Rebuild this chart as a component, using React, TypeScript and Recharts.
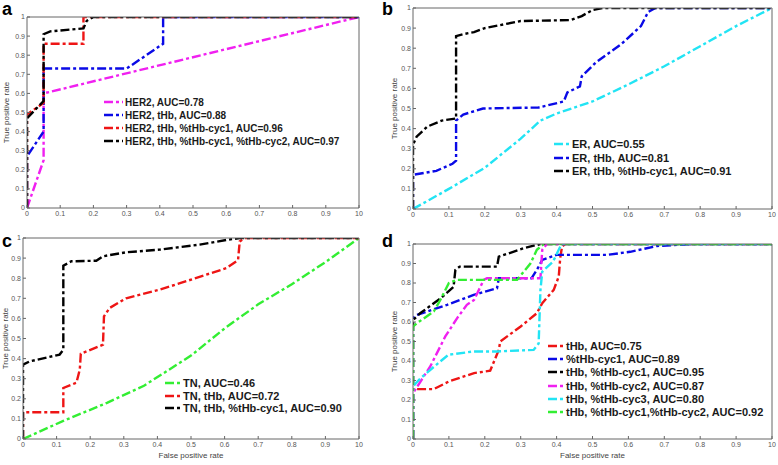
import React from "react";
import { LineChart, Line, XAxis, YAxis, Legend } from "recharts";

const FONT = '"Liberation Sans", Arial, sans-serif';
const DASH = "9 3 3 3";

const axisTicks = [0, 0.1, 0.2, 0.3, 0.4, 0.5, 0.6, 0.7, 0.8, 0.9, 1];
const xTickLabels = ["0", "0.1", "0.2", "0.3", "0.4", "0.5", "0.6", "0.7", "0.8", "0.9", "10"];
const yTickLabels = ["0", "0.1", "0.2", "0.3", "0.4", "0.5", "0.6", "0.7", "0.8", "0.9", "1"];

type Pt = [number, number];

// panel a: HER2 (fpr, tpr)
const aHer2: Pt[] = [[0, 0], [0.05, 0.25], [0.05, 0.6], [1, 1]];
const aHer2Thb: Pt[] = [[0, 0], [0, 0.27], [0.05, 0.4], [0.05, 0.73], [0.3, 0.73], [0.41, 0.86], [0.41, 1], [1, 1]];
const aHer2Cyc1: Pt[] = [[0, 0], [0, 0.49], [0.05, 0.55], [0.05, 0.86], [0.17, 0.86], [0.17, 1], [1, 1]];
const aHer2Cyc12: Pt[] = [[0, 0], [0, 0.47], [0.05, 0.56], [0.05, 0.91], [0.07, 0.925], [0.17, 0.94], [0.18, 0.98], [0.2, 1], [1, 1]];

// panel b: ER
const bEr: Pt[] = [[0, 0], [0.1, 0.1], [0.2, 0.205], [0.3, 0.35], [0.355, 0.44], [0.4, 0.475], [0.5, 0.535], [0.6, 0.62], [0.7, 0.71], [0.8, 0.81], [0.9, 0.91], [1, 1]];
const bErThb: Pt[] = [[0, 0], [0, 0.17], [0.065, 0.19], [0.11, 0.225], [0.12, 0.24], [0.12, 0.44], [0.14, 0.47], [0.195, 0.5], [0.35, 0.505], [0.42, 0.535], [0.43, 0.58], [0.465, 0.61], [0.47, 0.66], [0.51, 0.73], [0.58, 0.82], [0.635, 0.91], [0.655, 0.98], [0.675, 1], [1, 1]];
const bErCyc1: Pt[] = [[0, 0], [0, 0.32], [0.01, 0.36], [0.04, 0.41], [0.08, 0.44], [0.12, 0.45], [0.12, 0.86], [0.14, 0.87], [0.17, 0.88], [0.2, 0.9], [0.3, 0.935], [0.44, 0.94], [0.47, 0.96], [0.5, 0.99], [0.53, 1], [1, 1]];

// panel c: TN
const cTn: Pt[] = [[0, 0], [0.12, 0.09], [0.25, 0.18], [0.36, 0.265], [0.5, 0.415], [0.6, 0.55], [0.7, 0.67], [0.8, 0.77], [0.9, 0.88], [1, 1]];
const cTnThb: Pt[] = [[0, 0], [0, 0.133], [0.12, 0.133], [0.12, 0.254], [0.159, 0.28], [0.169, 0.345], [0.172, 0.424], [0.238, 0.469], [0.241, 0.61], [0.258, 0.652], [0.307, 0.7], [0.407, 0.743], [0.506, 0.796], [0.605, 0.85], [0.64, 0.89], [0.645, 0.983], [0.66, 1], [1, 1]];
const cTnCyc1: Pt[] = [[0, 0], [0, 0.37], [0.02, 0.386], [0.109, 0.42], [0.12, 0.444], [0.12, 0.862], [0.144, 0.884], [0.218, 0.887], [0.238, 0.909], [0.307, 0.929], [0.407, 0.942], [0.526, 0.967], [0.605, 0.99], [0.645, 1], [1, 1]];

// panel d: combinations
const dThb: Pt[] = [[0, 0], [0, 0.256], [0.058, 0.256], [0.1, 0.295], [0.17, 0.338], [0.215, 0.35], [0.239, 0.457], [0.243, 0.5], [0.3, 0.577], [0.345, 0.645], [0.36, 0.696], [0.392, 0.765], [0.406, 0.833], [0.41, 0.927], [0.415, 0.986], [0.424, 1], [1, 1]];
const dCyc1: Pt[] = [[0, 0], [0, 0.62], [0.011, 0.636], [0.095, 0.688], [0.169, 0.739], [0.234, 0.773], [0.239, 0.824], [0.33, 0.824], [0.345, 0.867], [0.36, 0.918], [0.4, 0.944], [0.54, 0.944], [0.605, 0.96], [0.68, 0.99], [0.78, 1], [1, 1]];
const dThbCyc1: Pt[] = [[0, 0], [0, 0.61], [0.02, 0.645], [0.076, 0.72], [0.113, 0.78], [0.118, 0.867], [0.13, 0.884], [0.234, 0.884], [0.239, 0.935], [0.308, 0.978], [0.355, 1], [1, 1]];
const dThbCyc2: Pt[] = [[0, 0], [0, 0.235], [0.048, 0.372], [0.09, 0.526], [0.123, 0.62], [0.15, 0.688], [0.17, 0.713], [0.197, 0.816], [0.206, 0.824], [0.355, 0.824], [0.36, 0.97], [0.373, 1], [1, 1]];
const dThbCyc3: Pt[] = [[0, 0], [0, 0.27], [0.02, 0.31], [0.076, 0.398], [0.099, 0.432], [0.169, 0.449], [0.234, 0.449], [0.336, 0.457], [0.35, 0.49], [0.355, 0.765], [0.36, 0.858], [0.39, 0.91], [0.41, 0.986], [0.415, 1], [1, 1]];
const dThbCyc12: Pt[] = [[0, 0], [0, 0.577], [0.011, 0.594], [0.058, 0.654], [0.076, 0.713], [0.1, 0.8], [0.123, 0.816], [0.29, 0.816], [0.327, 0.9], [0.345, 0.97], [0.364, 1], [1, 1]];

const MAGENTA = "#f020f0";
const BLUE = "#0a0ae6";
const RED = "#ee1515";
const BLACK = "#000000";
const CYAN = "#22e4f4";
const GREEN = "#33ee33";

type Series = { name: string; color: string; points: Pt[] };

const toRows = (pts: Pt[]) => pts.map(([fpr, tpr]) => ({ fpr, tpr }));

type LegendCfg = { left: number; top: number; rowH: number; fontSize: number; lineW: number; gap: number };

function LegendRows({ payload, cfg }: { payload?: any[]; cfg: LegendCfg }) {
  return (
    <div style={{ fontFamily: FONT, fontWeight: 700, fontSize: cfg.fontSize, color: "#1a1a1a", whiteSpace: "nowrap" }}>
      {(payload || []).map((e: any) => (
        <div key={e.value} style={{ display: "flex", alignItems: "center", height: cfg.rowH }}>
          <svg width={cfg.lineW} height={6} style={{ display: "block" }}>
            <line x1={0} y1={3} x2={cfg.lineW} y2={3} stroke={e.color} strokeWidth={2.4} strokeDasharray={DASH} />
          </svg>
          <span style={{ marginLeft: cfg.gap }}>{e.value}</span>
        </div>
      ))}
    </div>
  );
}

interface PanelProps {
  left: number;
  top: number;
  width: number;
  height: number;
  margin: { top: number; right: number; bottom: number; left: number };
  yAxisWidth: number;
  xAxisHeight: number;
  yLabelOffset: number;
  xLabel?: boolean;
  series: Series[];
  legend: LegendCfg;
}

const tickStyle = { fontSize: 7, fill: "#555", fontFamily: FONT };
const AXIS = "#666";

function RocPanel(p: PanelProps) {
  // keep legend rows in plotting order (recharts sorts by name otherwise)
  const order = (item: any) => p.series.findIndex((s) => s.name === item.value);
  return (
    <div style={{ position: "absolute", left: p.left, top: p.top, width: p.width, height: p.height }}>
      <LineChart width={p.width} height={p.height} margin={p.margin}>
        <XAxis
          dataKey="fpr"
          type="number"
          domain={[0, 1]}
          ticks={axisTicks}
          interval={0}
          tickFormatter={(v: number, i: number) => xTickLabels[i]}
          height={p.xAxisHeight}
          tickSize={-3}
          tickMargin={6}
          stroke={AXIS}
          tick={tickStyle}
          allowDataOverflow
          label={
            p.xLabel
              ? { value: "False positive rate", position: "insideBottom", offset: 7, style: { fontSize: 8, fill: "#444", fontFamily: FONT } }
              : undefined
          }
        />
        <XAxis xAxisId="top" orientation="top" type="number" domain={[0, 1]} ticks={axisTicks} height={1} tickSize={-3} tick={false} stroke={AXIS} allowDataOverflow />
        <YAxis
          type="number"
          domain={[0, 1]}
          ticks={axisTicks}
          interval={0}
          tickFormatter={(v: number, i: number) => yTickLabels[i]}
          width={p.yAxisWidth}
          tickSize={-3}
          tickMargin={5}
          stroke={AXIS}
          tick={tickStyle}
          allowDataOverflow
          label={{
            value: "True positive rate",
            angle: -90,
            position: "insideLeft",
            offset: p.yLabelOffset,
            style: { fontSize: 8, fill: "#444", fontFamily: FONT, textAnchor: "middle" },
          }}
        />
        <YAxis yAxisId="right" orientation="right" type="number" domain={[0, 1]} ticks={axisTicks} width={1} tickSize={-3} tick={false} stroke={AXIS} allowDataOverflow />
        {p.series.map((s) => (
          <Line
            key={s.name}
            name={s.name}
            data={toRows(s.points)}
            dataKey="tpr"
            type="linear"
            stroke={s.color}
            strokeWidth={2.4}
            strokeDasharray={DASH}
            dot={false}
            activeDot={false}
            isAnimationActive={false}
          />
        ))}
        <Legend
          layout="vertical"
          align="center"
          verticalAlign="middle"
          itemSorter={order}
          wrapperStyle={{ left: p.legend.left, top: p.legend.top, width: "auto" }}
          content={(props: any) => (
            <LegendRows payload={[...(props.payload || [])].sort((a, b) => order(a) - order(b))} cfg={p.legend} />
          )}
        />
      </LineChart>
    </div>
  );
}

const letterStyle: React.CSSProperties = {
  position: "absolute",
  fontFamily: FONT,
  fontWeight: 700,
  fontSize: 18,
  lineHeight: 1,
  color: "#000",
};

export default function App() {
  return (
    <div style={{ position: "absolute", left: 0, top: 0, width: 778, height: 465, background: "#fff", overflow: "hidden" }}>
      <RocPanel
        left={0}
        top={0}
        width={390}
        height={230}
        margin={{ top: 16, right: 30, bottom: 7, left: 0 }}
        yAxisWidth={27}
        xAxisHeight={15}
        yLabelOffset={6}
        series={[
          { name: "HER2, AUC=0.78", color: MAGENTA, points: aHer2 },
          { name: "HER2, tHb, AUC=0.88", color: BLUE, points: aHer2Thb },
          { name: "HER2, tHb, %tHb-cyc1, AUC=0.96", color: RED, points: aHer2Cyc1 },
          { name: "HER2, tHb, %tHb-cyc1, %tHb-cyc2, AUC=0.97", color: BLACK, points: aHer2Cyc12 },
        ]}
        legend={{ left: 104, top: 95.5, rowH: 13, fontSize: 10, lineW: 19, gap: 2 }}
      />
      <RocPanel
        left={390}
        top={0}
        width={388}
        height={230}
        margin={{ top: 7, right: 5, bottom: 6, left: 0 }}
        yAxisWidth={23}
        xAxisHeight={15}
        yLabelOffset={4}
        series={[
          { name: "ER, AUC=0.55", color: CYAN, points: bEr },
          { name: "ER, tHb, AUC=0.81", color: BLUE, points: bErThb },
          { name: "ER, tHb, %tHb-cyc1, AUC=0.91", color: BLACK, points: bErCyc1 },
        ]}
        legend={{ left: 164, top: 137.5, rowH: 13.5, fontSize: 11, lineW: 16, gap: 2 }}
      />
      <RocPanel
        left={0}
        top={230}
        width={390}
        height={235}
        margin={{ top: 7, right: 30, bottom: 0, left: 0 }}
        yAxisWidth={23}
        xAxisHeight={26}
        yLabelOffset={5}
        xLabel
        series={[
          { name: "TN, AUC=0.46", color: GREEN, points: cTn },
          { name: "TN, tHb, AUC=0.72", color: RED, points: cTnThb },
          { name: "TN, tHb, %tHb-cyc1, AUC=0.90", color: BLACK, points: cTnCyc1 },
        ]}
        legend={{ left: 165, top: 147, rowH: 12.5, fontSize: 11, lineW: 16, gap: 2 }}
      />
      <RocPanel
        left={390}
        top={230}
        width={388}
        height={235}
        margin={{ top: 13, right: 5, bottom: 0, left: 0 }}
        yAxisWidth={23}
        xAxisHeight={26}
        yLabelOffset={4}
        xLabel
        series={[
          { name: "tHb, AUC=0.75", color: RED, points: dThb },
          { name: "%tHb-cyc1, AUC=0.89", color: BLUE, points: dCyc1 },
          { name: "tHb, %tHb-cyc1, AUC=0.95", color: BLACK, points: dThbCyc1 },
          { name: "tHb, %tHb-cyc2, AUC=0.87", color: MAGENTA, points: dThbCyc2 },
          { name: "tHb, %tHb-cyc3, AUC=0.80", color: CYAN, points: dThbCyc3 },
          { name: "tHb, %tHb-cyc1,%tHb-cyc2, AUC=0.92", color: GREEN, points: dThbCyc12 },
        ]}
        legend={{ left: 158, top: 109.5, rowH: 13.2, fontSize: 11, lineW: 16, gap: 2 }}
      />
      <div style={{ ...letterStyle, left: 2, top: 0 }}>a</div>
      <div style={{ ...letterStyle, left: 382, top: 0 }}>b</div>
      <div style={{ ...letterStyle, left: 2, top: 232 }}>c</div>
      <div style={{ ...letterStyle, left: 382, top: 232 }}>d</div>
    </div>
  );
}
